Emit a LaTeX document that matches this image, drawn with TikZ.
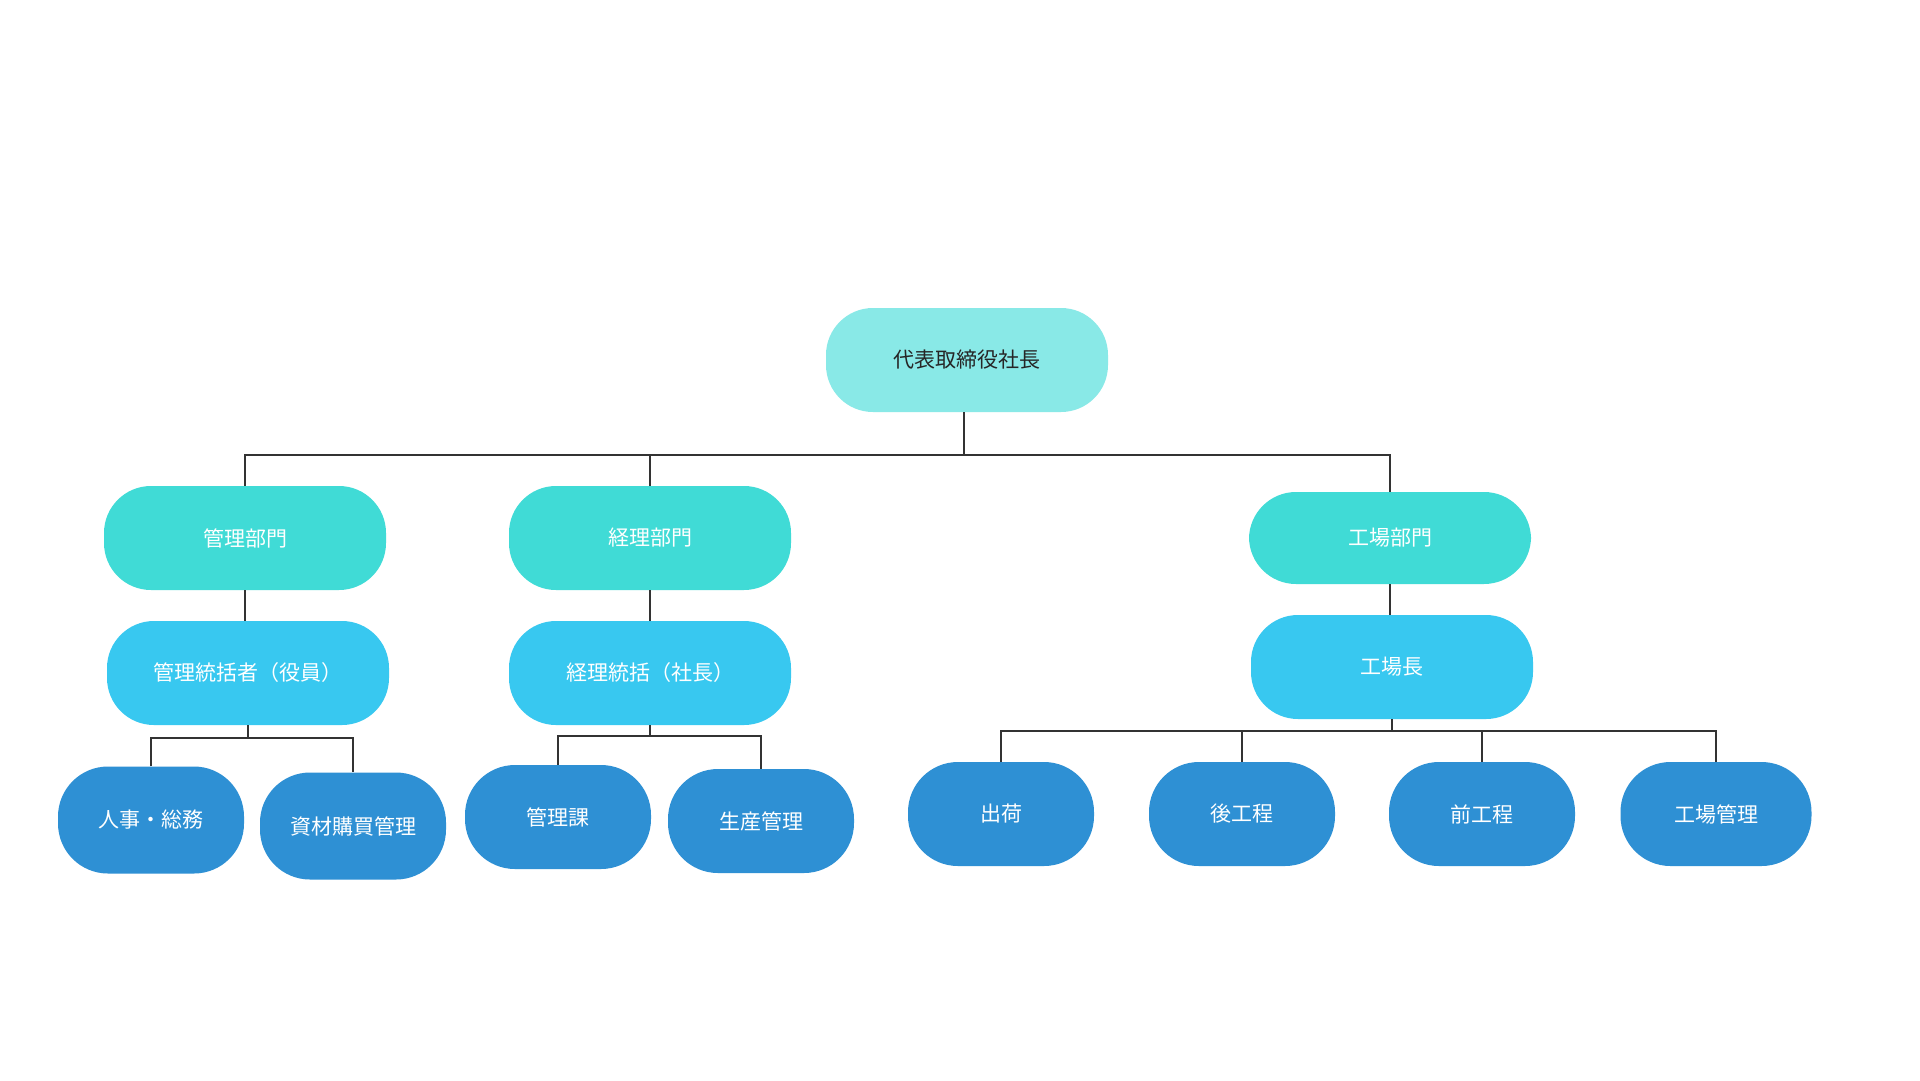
\documentclass[tikz,border=0pt]{standalone}
\usepackage{fontspec}
\setmainfont{Noto Sans CJK JP}
\usepackage{tikz}

\definecolor{topc}{RGB}{137,233,231}
\definecolor{deptc}{RGB}{64,219,214}
\definecolor{headc}{RGB}{56,200,240}
\definecolor{unitc}{RGB}{46,144,212}
\definecolor{linec}{RGB}{51,51,51}

\tikzset{
  pill/.style={shape=rectangle,rounded corners=47pt,minimum width=282pt,minimum height=104pt,inner sep=0pt,font=\fontsize{21}{24}\selectfont,text=white},
  unitbox/.style={pill,fill=unitc,minimum width=186pt,rounded corners=50pt},
  conn/.style={draw=linec,line width=1.1pt}
}

\begin{document}
\begin{tikzpicture}[x=1pt,y=-1pt]
\useasboundingbox (0,0) rectangle (1920,1080);
\fill[white] (0,0) rectangle (1920,1080);
\path (967,360) node (ceo) [pill,fill=topc,text=black!85] {代表取締役社長};

\path (245,538) node (kanri) [pill,fill=deptc] {管理部門};
\path (650,538) node (keiri) [pill,fill=deptc] {経理部門};
\path (1390,538) node (kojo) [pill,fill=deptc,minimum height=92pt] {工場部門};

\path (248,673) node (kanrihead) [pill,fill=headc] {管理統括者（役員）};
\path (650,673) node (keirihead) [pill,fill=headc] {経理統括（社長）};
\path (1392,667) node (kojohead) [pill,fill=headc] {工場長};

\path (151,820) node (jinji) [unitbox,minimum height=107pt] {人事・総務};
\path (353,826) node (shizai) [unitbox,minimum height=107pt] {資材購買管理};
\path (558,817) node (kanrika) [unitbox] {管理課};
\path (761,821) node (seisan) [unitbox] {生産管理};
\path (1001,814) node (shukka) [unitbox] {出荷};
\path (1242,814) node (ato) [unitbox] {後工程};
\path (1482,814) node (mae) [unitbox] {前工程};
\path (1716,814) node (kojokanri) [unitbox,minimum width=191pt] {工場管理};

\coordinate (bus0) at (0,455);
\coordinate (bus1) at (0,738);
\coordinate (bus2) at (0,736);
\coordinate (bus3) at (0,731);

\draw [conn] ([xshift=-3pt]ceo.south) to ([xshift=-3pt]ceo.south |- bus0);
\draw [conn] (kanri.north) -- (kanri.north |- bus0) -- (kojo.north |- bus0) -- (kojo.north);
\draw [conn] (keiri.north) to (keiri.north |- bus0);

\draw [conn] (kanri.south) to (kanri.south |- kanrihead.north);
\draw [conn] (keiri.south) to (keiri.south |- keirihead.north);
\draw [conn] (kojo.south) to (kojo.south |- kojohead.north);

\draw [conn] (kanrihead.south) to (kanrihead.south |- bus1);
\draw [conn] (jinji.north) -- (jinji.north |- bus1) -- (shizai.north |- bus1) -- (shizai.north);

\draw [conn] (keirihead.south) to (keirihead.south |- bus2);
\draw [conn] (kanrika.north) -- (kanrika.north |- bus2) -- (seisan.north |- bus2) -- (seisan.north);

\draw [conn] (kojohead.south) to (kojohead.south |- bus3);
\draw [conn] (shukka.north) -- (shukka.north |- bus3) -- (kojokanri.north |- bus3) -- (kojokanri.north);
\draw [conn] (ato.north) to (ato.north |- bus3);
\draw [conn] (mae.north) to (mae.north |- bus3);
\end{tikzpicture}
\end{document}
